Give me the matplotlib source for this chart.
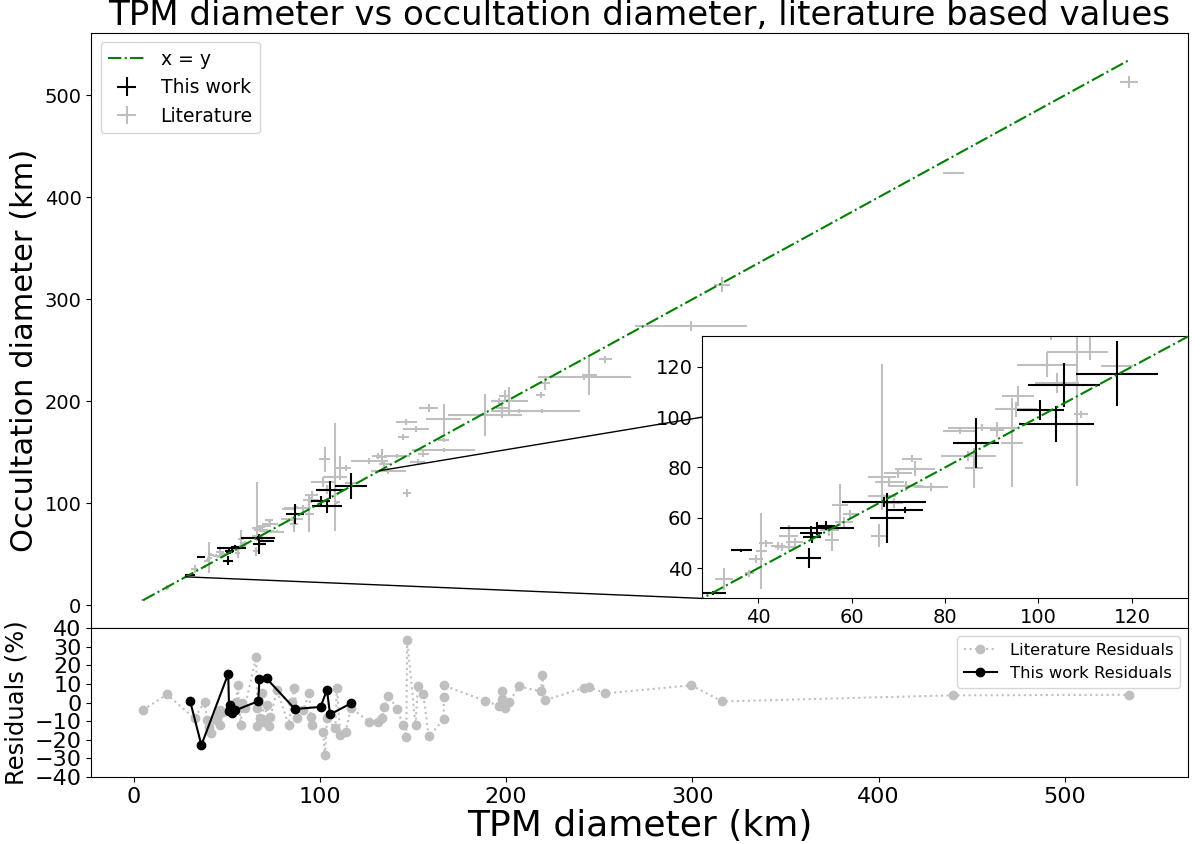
import numpy as np
import matplotlib
matplotlib.use('Agg')
import matplotlib.pyplot as plt
from matplotlib.patches import ConnectionPatch

# ---------------- data ----------------
lit_tpm = [5.0, 17.9, 32.7, 38.1, 39.5, 40.7, 41.6, 44.2, 45.1, 46.5,
           46.5, 47.8, 55.2, 55.8, 57.5, 58.4, 59.6, 65.8, 66.4, 66.4,
           68.1, 69.0, 69.9, 71.7, 72.9, 73.5, 77.0, 83.2, 85.0, 86.2,
           88.0, 91.2, 94.3, 95.2, 95.6, 101.8, 102.7, 103.9, 108.3, 109.2,
           111.0, 113.8, 116.8, 126.6, 131.1, 133.3, 134.7, 136.8, 141.5, 144.8,
           146.4, 146.9, 151.4, 152.6, 155.5, 158.5, 166.5, 166.5, 166.5, 188.5,
           196.4, 197.8, 197.8, 199.2, 201.8, 207.0, 218.6, 219.5, 220.7, 242.0,
           244.6, 253.2, 299.4, 316.1, 440.1, 534.6]
lit_tpm_err = [1.0, 1.0, 2.0, 1.0, 1.5, 1.2, 1.5, 1.5, 1.5, 1.5,
               2.1, 1.8, 2.0, 1.5, 1.7, 2.0, 1.5, 1.6, 3.0, 3.0,
               3.2, 2.0, 3.0, 3.5, 2.2, 4.3, 3.6, 3.6, 5.9, 2.0,
               7.3, 1.5, 2.3, 4.5, 3.5, 6.4, 3.0, 4.7, 6.5, 1.5,
               3.0, 3.0, 3.4, 10.0, 3.0, 3.0, 3.0, 9.3, 7.0, 3.0,
               5.7, 2.0, 7.0, 4.0, 3.0, 5.0, 9.3, 3.0, 17.0, 19.9,
               4.0, 3.0, 3.0, 3.0, 10.0, 15.0, 2.5, 20.0, 3.0, 25.0,
               4.0, 3.5, 30.0, 4.4, 5.7, 4.8]
lit_occ = [5.21, 17.15, 35.74, 37.95, 43.60, 46.78, 49.88, 48.79, 48.34, 48.44,
           52.72, 50.48, 54.98, 51.01, 65.19, 58.40, 61.51, 52.89, 68.52, 76.06,
           74.18, 65.78, 77.93, 72.64, 83.51, 79.55, 72.16, 94.33, 84.66, 79.81,
           95.86, 95.00, 89.90, 103.03, 108.39, 120.76, 143.24, 113.55, 125.78, 101.11,
           134.55, 135.00, 120.16, 141.45, 146.81, 145.36, 138.30, 132.05, 146.48, 165.11,
           179.63, 109.96, 172.63, 140.39, 148.52, 193.77, 182.97, 161.96, 152.47, 186.63,
           200.00, 186.25, 193.73, 205.15, 200.80, 190.43, 206.23, 190.87, 218.08, 224.07,
           225.44, 241.37, 273.92, 314.21, 423.58, 513.05]
lit_occ_err_low = [1.0, 2.5, 4.3, 1.5, 1.5, 15.0, 1.5, 1.5, 1.5, 1.5,
                   4.3, 1.5, 2.0, 4.3, 8.4, 2.0, 1.5, 4.5, 2.0, 13.0,
                   2.0, 2.0, 2.0, 2.0, 1.5, 3.0, 1.5, 1.0, 2.0, 8.0,
                   1.5, 3.0, 17.8, 3.0, 4.0, 5.0, 12.5, 4.0, 53.0, 1.5,
                   12.0, 3.0, 3.0, 3.0, 3.0, 8.0, 3.0, 3.0, 2.0, 3.0,
                   3.0, 4.0, 3.0, 3.0, 3.0, 4.0, 14.7, 2.0, 2.0, 21.0,
                   3.0, 3.0, 3.0, 6.0, 13.0, 2.0, 3.0, 2.0, 7.0, 3.0,
                   19.0, 3.5, 5.0, 7.3, 1.0, 5.8]
lit_occ_err_high = [1.0, 2.5, 4.3, 1.5, 1.5, 15.0, 1.5, 1.5, 1.5, 1.5,
                    4.3, 1.5, 2.0, 4.3, 8.4, 2.0, 1.5, 4.5, 2.0, 45.0,
                    2.0, 2.0, 2.0, 2.0, 1.5, 3.0, 1.5, 1.0, 2.0, 8.0,
                    1.5, 3.0, 17.8, 3.0, 4.0, 5.0, 12.5, 4.0, 53.0, 1.5,
                    12.0, 3.0, 3.0, 3.0, 3.0, 8.0, 3.0, 3.0, 2.0, 3.0,
                    3.0, 4.0, 3.0, 3.0, 3.0, 4.0, 14.7, 2.0, 2.0, 21.0,
                    3.0, 3.0, 3.0, 6.0, 13.0, 2.0, 3.0, 2.0, 7.0, 3.0,
                    19.0, 3.5, 5.0, 7.3, 1.0, 5.8]

this_tpm = [30.3, 36.4, 50.8, 51.3, 51.5, 52.6, 54.5, 66.9, 67.6, 71.4,
            86.6, 100.4, 103.8, 105.5, 116.8]
this_tpm_err = [2.8, 2.2, 2.6, 2.4, 2.0, 8.0, 2.0, 9.0, 3.6, 3.9,
                5.0, 5.0, 8.0, 7.7, 8.7]
this_occ = [30.0, 47.2, 44.0, 53.8, 52.2, 55.8, 56.9, 66.4, 60.0, 63.2,
            89.7, 102.8, 97.2, 112.7, 117.2]
this_occ_err = [0.8, 0.6, 4.0, 2.8, 2.0, 2.7, 1.9, 2.0, 10.0, 1.2,
                10.1, 4.0, 7.1, 8.8, 12.9]

inset_lim = [28, 132]
inset_ticks = [40, 60, 80, 100, 120]
res_ticks = [-40, -30, -20, -10, 0, 10, 20, 30, 40]

# ---------------- figure ----------------
lit_col = '#bfbfbf'
fig = plt.figure(figsize=(12, 8.44), dpi=100)
gs = fig.add_gridspec(2, 1, height_ratios=[4, 1], hspace=0,
                      left=0.076, right=0.99, top=0.961, bottom=0.0794)
ax = fig.add_subplot(gs[0])
axr = fig.add_subplot(gs[1], sharex=ax)


def draw(a):
    h_lit = a.errorbar(lit_tpm, lit_occ, xerr=lit_tpm_err,
                       yerr=[lit_occ_err_low, lit_occ_err_high],
                       fmt='none', ecolor=lit_col, elinewidth=1.5,
                       label='Literature', zorder=2)
    h_this = a.errorbar(this_tpm, this_occ, xerr=this_tpm_err, yerr=this_occ_err,
                        fmt='none', ecolor='black', elinewidth=1.5,
                        label='This work', zorder=3)
    allx = np.array(lit_tpm + this_tpm)
    xx = np.linspace(allx.min(), allx.max(), 200)
    h_line, = a.plot(xx, xx, color='green', ls='-.', lw=1.5, label='x = y', zorder=4)
    return h_line, h_this, h_lit


h_line, h_this, h_lit = draw(ax)
ax.legend(handles=[h_line, h_this, h_lit], loc='upper left', fontsize=13.5)
ax.set_ylabel('Occultation diameter (km)', fontsize=22, y=0.467)
ax.set_title('TPM diameter vs occultation diameter, literature based values',
             fontsize=24.5)
ax.tick_params(axis='y', labelsize=14)
ax.tick_params(axis='x', bottom=False, labelbottom=False)

# inset
axins = ax.inset_axes([0.557, 0.05, 0.443, 0.44])
draw(axins)
axins.set_xlim(*inset_lim)
axins.set_ylim(*inset_lim)
axins.set_xticks(inset_ticks)
axins.set_yticks(inset_ticks)
axins.tick_params(labelsize=14)

for (xa, xb) in [((inset_lim[0], inset_lim[0]), (0, 0)),
                 ((inset_lim[1], inset_lim[1]), (1, 1))]:
    cp = ConnectionPatch(xyA=xa, coordsA=ax.transData,
                         xyB=xb, coordsB=axins.transAxes,
                         color='black', lw=1, zorder=4.5)
    ax.add_artist(cp)

# residuals
lt = np.array(lit_tpm)
lo = np.array(lit_occ)
o1 = np.argsort(lt, kind='stable')
lit_res = (lt - lo) / lo * 100
tt = np.array(this_tpm)
to = np.array(this_occ)
o2 = np.argsort(tt, kind='stable')
this_res = (tt - to) / to * 100
axr.plot(lt[o1], lit_res[o1], ls=':', marker='o', color=lit_col, ms=6,
         label='Literature Residuals')
axr.plot(tt[o2], this_res[o2], ls='-', marker='o', color='black', ms=6,
         label='This work Residuals')
axr.set_ylim(-40, 40)
axr.set_yticks(res_ticks)
axr.tick_params(labelsize=16)
axr.set_ylabel('Residuals (%)', fontsize=17.5)
axr.set_xlabel('TPM diameter (km)', fontsize=26, labelpad=2)
axr.legend(loc='upper right', fontsize=11.8)

fig.savefig('out.png', dpi=100)
